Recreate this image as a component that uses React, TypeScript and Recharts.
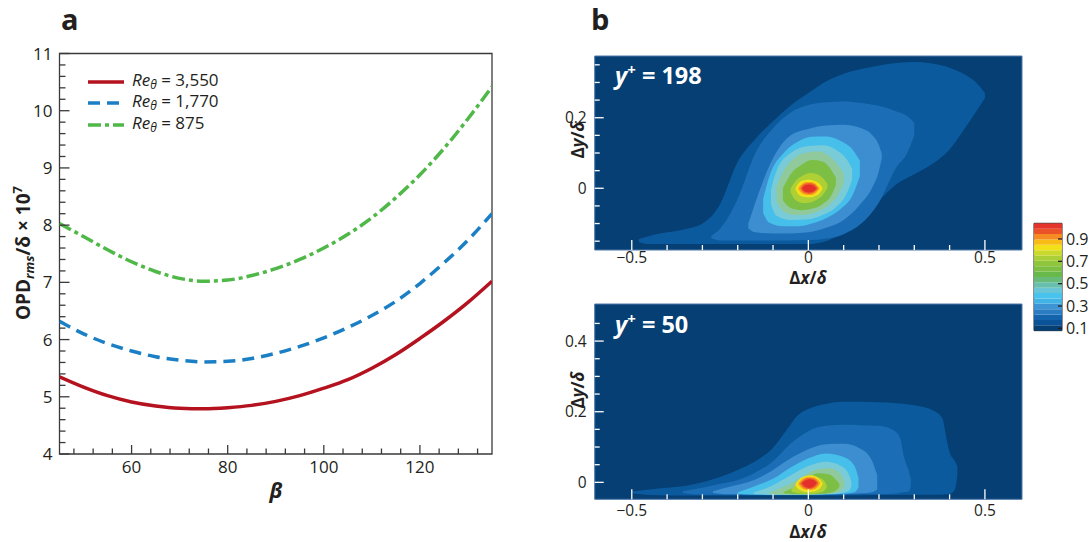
import React from "react";
import {
  Area,
  Bar,
  BarChart,
  CartesianGrid,
  ComposedChart,
  Legend,
  Line,
  LineChart,
  ReferenceArea,
  XAxis,
  YAxis,
} from "recharts";

const FONT = '"Open Sans", "Noto Sans", sans-serif';

// ---------- panel a: OPD vs beta ----------
const beta = [45, 50, 55, 60, 65, 70, 75, 80, 85, 90, 95, 100, 105, 110, 115, 120, 125, 130, 135];
const re3550 = [5.35, 5.17, 5.02, 4.91, 4.84, 4.8, 4.79, 4.81, 4.85, 4.92, 5.02, 5.15, 5.3, 5.5, 5.74, 6.02, 6.32, 6.65, 7.02];
const re1770 = [6.32, 6.1, 5.93, 5.8, 5.7, 5.64, 5.61, 5.62, 5.67, 5.76, 5.88, 6.03, 6.21, 6.42, 6.67, 6.98, 7.34, 7.74, 8.2];
const re875 = [8.03, 7.8, 7.57, 7.36, 7.19, 7.07, 7.02, 7.04, 7.12, 7.24, 7.4, 7.6, 7.84, 8.13, 8.48, 8.88, 9.34, 9.86, 10.42];
const seriesKeys = ["a", "b", "c"];
const reLabels = ["3,550", "1,770", "875"];
const lineColors = ["#b5121f", "#1a7fc4", "#4fb848"];
const lineDash = [undefined, "12 7", "13 4 4 4"];

const betaMajors = [60, 80, 100, 120];
const betaTicks = Array.from({ length: 22 }, (_, i) => 48 + i * 4);
const opdMajors = [4, 5, 6, 7, 8, 9, 10, 11];
const opdTicks = Array.from({ length: 36 }, (_, i) => Math.round((4 + i * 0.2) * 10) / 10);

const opdData = beta.map((b, i) => ({ beta: b, a: re3550[i], b: re1770[i], c: re875[i] }));

// ---------- panel b: correlation contours, [dx, lower dy, upper dy] ----------
type Pt = [number, number, number];

const top1: Pt[] = [
  [-0.48, -0.152, -0.144], [-0.45, -0.158, -0.135], [-0.4, -0.158, -0.125], [-0.35, -0.158, -0.116],
  [-0.3, -0.158, -0.1], [-0.25, -0.158, -0.045], [-0.2, -0.158, 0.075], [-0.15, -0.158, 0.14],
  [-0.1, -0.158, 0.19], [-0.05, -0.158, 0.235], [0, -0.158, 0.27], [0.05, -0.15, 0.303],
  [0.1, -0.125, 0.325], [0.15, -0.085, 0.338], [0.2, -0.035, 0.348], [0.25, 0.012, 0.355],
  [0.3, 0.04, 0.358], [0.35, 0.068, 0.354], [0.4, 0.11, 0.342], [0.45, 0.18, 0.318],
  [0.48, 0.225, 0.295], [0.5, 0.255, 0.27],
];
const top2: Pt[] = [
  [-0.275, -0.142, -0.135], [-0.25, -0.148, -0.115], [-0.2, -0.148, -0.03], [-0.15, -0.148, 0.1],
  [-0.1, -0.148, 0.17], [-0.05, -0.148, 0.215], [0, -0.147, 0.236], [0.05, -0.143, 0.244],
  [0.1, -0.13, 0.246], [0.15, -0.1, 0.242], [0.2, -0.04, 0.234], [0.25, 0.06, 0.218],
  [0.28, 0.1, 0.205], [0.3, 0.15, 0.185],
];
const top3: Pt[] = [
  [-0.17, -0.114, -0.1], [-0.15, -0.125, -0.04], [-0.1, -0.128, 0.085], [-0.05, -0.128, 0.15],
  [0, -0.125, 0.168], [0.05, -0.112, 0.178], [0.1, -0.09, 0.18], [0.15, -0.042, 0.17],
  [0.18, 0, 0.152], [0.2, 0.05, 0.122], [0.208, 0.085, 0.097],
];
const top4: Pt[] = [
  [-0.128, -0.07, -0.03], [-0.11, -0.098, 0.035], [-0.07, -0.108, 0.1], [-0.03, -0.108, 0.132],
  [0.01, -0.1, 0.146], [0.05, -0.085, 0.147], [0.09, -0.06, 0.135], [0.125, -0.02, 0.11],
  [0.146, 0.035, 0.078],
];
const top5: Pt[] = [
  [-0.106, -0.045, -0.005], [-0.09, -0.078, 0.05], [-0.05, -0.09, 0.1], [0, -0.088, 0.12],
  [0.04, -0.076, 0.122], [0.08, -0.052, 0.108], [0.11, -0.012, 0.08], [0.124, 0.025, 0.055],
];
const top6: Pt[] = [
  [-0.09, -0.035, 0.005], [-0.07, -0.066, 0.05], [-0.04, -0.076, 0.085], [0, -0.074, 0.102],
  [0.03, -0.064, 0.104], [0.06, -0.046, 0.09], [0.088, -0.012, 0.06], [0.1, 0.015, 0.04],
];
const top7: Pt[] = [
  [-0.072, -0.035, 0], [-0.05, -0.056, 0.04], [-0.02, -0.062, 0.066], [0.01, -0.058, 0.08],
  [0.04, -0.045, 0.076], [0.065, -0.02, 0.052], [0.078, 0.01, 0.03],
];
const top8: Pt[] = [
  [-0.05, -0.012, 0], [-0.035, -0.035, 0.022], [-0.015, -0.042, 0.036], [0.005, -0.04, 0.043],
  [0.025, -0.032, 0.04], [0.042, -0.018, 0.028], [0.054, 0.002, 0.012],
];
const top9: Pt[] = [
  [-0.036, -0.004, 0.002], [-0.025, -0.02, 0.017], [-0.01, -0.025, 0.023], [0.005, -0.026, 0.024],
  [0.02, -0.022, 0.02], [0.032, -0.014, 0.012], [0.04, -0.002, 0.001],
];
const top10: Pt[] = [
  [-0.028, -0.003, 0.002], [-0.018, -0.015, 0.013], [-0.005, -0.019, 0.018], [0.008, -0.019, 0.018],
  [0.02, -0.014, 0.013], [0.031, -0.002, 0.001],
];
const top11: Pt[] = [
  [-0.022, -0.002, 0.002], [-0.012, -0.013, 0.012], [0.002, -0.016, 0.015], [0.016, -0.012, 0.012],
  [0.027, -0.002, 0.001],
];
const top12: Pt[] = [
  [-0.017, -0.002, 0.002], [-0.008, -0.01, 0.009], [0.003, -0.012, 0.011], [0.014, -0.009, 0.008],
  [0.022, -0.001, 0.001],
];

const bot1: Pt[] = [
  [-0.5, -0.03, -0.026], [-0.45, -0.036, -0.02], [-0.4, -0.037, -0.015], [-0.35, -0.037, -0.01],
  [-0.3, -0.037, 0], [-0.25, -0.037, 0.015], [-0.2, -0.037, 0.035], [-0.15, -0.037, 0.06],
  [-0.1, -0.037, 0.098], [-0.06, -0.037, 0.15], [-0.03, -0.037, 0.19], [0, -0.037, 0.208],
  [0.05, -0.037, 0.222], [0.1, -0.037, 0.228], [0.2, -0.036, 0.227], [0.3, -0.035, 0.218],
  [0.36, -0.035, 0.2], [0.38, -0.035, 0.18], [0.39, -0.034, 0.13], [0.4, -0.033, 0.085],
  [0.415, -0.02, 0.06], [0.422, 0.02, 0.045],
];
const bot2: Pt[] = [
  [-0.355, -0.03, -0.025], [-0.3, -0.035, -0.015], [-0.25, -0.035, -0.004], [-0.2, -0.035, 0.007],
  [-0.15, -0.035, 0.028], [-0.1, -0.035, 0.06], [-0.05, -0.035, 0.11], [0, -0.035, 0.145],
  [0.05, -0.035, 0.16], [0.1, -0.035, 0.163], [0.15, -0.034, 0.162], [0.2, -0.033, 0.16],
  [0.24, -0.032, 0.148], [0.26, -0.03, 0.125], [0.27, -0.028, 0.075], [0.285, -0.025, 0.03],
  [0.29, -0.01, 0.01],
];
const bot3: Pt[] = [
  [-0.27, -0.03, -0.025], [-0.22, -0.034, -0.012], [-0.15, -0.034, 0.008], [-0.1, -0.034, 0.035],
  [-0.05, -0.034, 0.068], [0, -0.034, 0.094], [0.05, -0.034, 0.108], [0.1, -0.033, 0.109],
  [0.15, -0.031, 0.094], [0.18, -0.028, 0.062], [0.195, -0.02, 0.02],
];
const bot4: Pt[] = [
  [-0.2, -0.033, -0.028], [-0.15, -0.035, -0.01], [-0.1, -0.035, 0.01], [-0.05, -0.035, 0.042],
  [0, -0.035, 0.068], [0.05, -0.034, 0.082], [0.1, -0.032, 0.072], [0.13, -0.028, 0.048],
  [0.142, -0.015, 0.012],
];
const bot5: Pt[] = [
  [-0.155, -0.033, -0.029], [-0.1, -0.035, -0.008], [-0.05, -0.035, 0.02], [0, -0.035, 0.046],
  [0.05, -0.034, 0.058], [0.09, -0.031, 0.048], [0.115, -0.024, 0.022], [0.122, -0.01, 0],
];
const bot6: Pt[] = [
  [-0.11, -0.033, -0.029], [-0.06, -0.035, -0.008], [-0.02, -0.035, 0.014], [0.02, -0.034, 0.036],
  [0.06, -0.032, 0.04], [0.09, -0.026, 0.026], [0.102, -0.012, 0.002],
];
const bot7: Pt[] = [
  [-0.07, -0.031, -0.027], [-0.03, -0.034, -0.008], [0, -0.034, 0.016], [0.03, -0.033, 0.026],
  [0.06, -0.03, 0.022], [0.08, -0.022, 0.005], [0.088, -0.012, -0.004],
];
const bot8: Pt[] = [
  [-0.048, -0.026, -0.02], [-0.03, -0.031, -0.002], [-0.01, -0.032, 0.012], [0.01, -0.032, 0.018],
  [0.03, -0.03, 0.014], [0.045, -0.024, 0.004], [0.052, -0.015, -0.008],
];
const bot9: Pt[] = [
  [-0.036, -0.01, -0.004], [-0.024, -0.022, 0.01], [-0.008, -0.027, 0.018], [0.008, -0.027, 0.02],
  [0.024, -0.023, 0.015], [0.034, -0.015, 0.007], [0.04, -0.006, -0.001],
];
const bot10: Pt[] = [
  [-0.028, -0.006, -0.002], [-0.016, -0.018, 0.01], [0, -0.022, 0.015], [0.016, -0.02, 0.014],
  [0.028, -0.012, 0.006], [0.033, -0.005, 0],
];
const bot11: Pt[] = [
  [-0.023, -0.005, -0.002], [-0.012, -0.016, 0.008], [0.002, -0.019, 0.012], [0.016, -0.016, 0.01],
  [0.027, -0.006, 0.001],
];
const bot12: Pt[] = [
  [-0.018, -0.004, -0.002], [-0.008, -0.013, 0.006], [0.004, -0.016, 0.009], [0.015, -0.012, 0.007],
  [0.023, -0.004, 0],
];

const topShapes = [top1, top2, top3, top4, top5, top6, top7, top8, top9, top10, top11, top12];
const botShapes = [bot1, bot2, bot3, bot4, bot5, bot6, bot7, bot8, bot9, bot10, bot11, bot12];
const levelColors = [
  "#0b5a9d", "#1b6db5", "#3d8ed1", "#46bfeb", "#7acbd8", "#90ca9c",
  "#7cbf44", "#aed035", "#f2e01b", "#f7a31d", "#ee6327", "#e3302a",
];
const BG = "#063f74";

const dxTicks = [-0.5, -0.4, -0.3, -0.2, -0.1, 0, 0.1, 0.2, 0.3, 0.4, 0.5];
const dxMajors = [-0.5, 0, 0.5];
const dyTicksTop = [-0.15, -0.1, -0.05, 0, 0.05, 0.1, 0.15, 0.2, 0.25, 0.3, 0.35];
const dyMajorsTop = [0, 0.2];
const dyTicksBot = [0, 0.05, 0.1, 0.15, 0.2, 0.25, 0.3, 0.35, 0.4, 0.45];
const dyMajorsBot = [0, 0.2, 0.4];

// colour bar, bottom to top
const cbColors = [
  "#063f74", "#0a5399", "#1464ad", "#2a7cc3", "#3f94d4", "#43b3e6", "#48c3ed",
  "#6ac6d6", "#68bfae", "#68ba78", "#69b84a", "#7dbf42", "#90c63e", "#aacf37",
  "#cbd92d", "#f2e11a", "#f9bc16", "#f58b22", "#ec5228", "#e5342a",
];
const cbStart = 0.08;
const cbStep = 0.048;
const cbTicks = [0.1, 0.3, 0.5, 0.7, 0.9];
const cbRow: Record<string, number | string> = { name: "cb", base: cbStart };
cbColors.forEach((_, i) => (cbRow[`s${i}`] = cbStep));

const fmtNum = (v: number) => (v < 0 ? "\u2212" + Math.abs(v) : String(v));

function makeTick(o: {
  side: "left" | "bottom" | "right";
  margin: number;
  majors: number[];
  majorLen: number;
  minorLen: number;
  color: string;
  fontSize: number;
  labelDy?: number;
}) {
  return (props: any) => {
    const { x, y, payload } = props;
    const v = payload.value as number;
    const major = o.majors.some((m) => Math.abs(m - v) < 1e-9);
    const len = major ? o.majorLen : o.minorLen;
    const txt = { fontSize: o.fontSize, fontFamily: FONT, fill: "#231f20" };
    if (o.side === "left") {
      const ax = x + o.margin;
      return (
        <g>
          <line x1={ax} x2={ax + len} y1={y} y2={y} stroke={o.color} strokeWidth={1.3} />
          {major && (
            <text x={x} y={y} dy="0.36em" textAnchor="end" style={txt}>
              {fmtNum(v)}
            </text>
          )}
        </g>
      );
    }
    if (o.side === "right") {
      const ax = x - o.margin;
      return (
        <g>
          <line x1={ax} x2={ax - len} y1={y} y2={y} stroke={o.color} strokeWidth={1.3} />
          <text x={x} y={y} dy="0.36em" textAnchor="start" style={txt}>
            {fmtNum(v)}
          </text>
        </g>
      );
    }
    const ay = y - o.margin;
    return (
      <g>
        <line x1={x} x2={x} y1={ay} y2={ay - len} stroke={o.color} strokeWidth={1.3} />
        {major && (
          <text x={x} y={ay + (o.labelDy ?? 16)} textAnchor="middle" style={txt}>
            {fmtNum(v)}
          </text>
        )}
      </g>
    );
  };
}

function OpdLegend(props: any) {
  const items = [...(props.payload ?? [])].sort(
    (p: any, q: any) => seriesKeys.indexOf(p.dataKey) - seriesKeys.indexOf(q.dataKey)
  );
  return (
    <div style={{ fontFamily: FONT, fontSize: 17, color: "#231f20", lineHeight: "21.5px" }}>
      {items.map((it: any) => {
        const k = seriesKeys.indexOf(it.dataKey);
        return (
          <div key={it.dataKey} style={{ display: "flex", alignItems: "center", height: 21.5 }}>
            <svg width={44} height={10}>
              <line x1={0} x2={36} y1={5} y2={5} stroke={lineColors[k]} strokeWidth={3.5} strokeDasharray={lineDash[k]} />
            </svg>
            <span>
              <i>Re</i>
              <sub style={{ fontSize: 12, verticalAlign: "-3px" }}>
                <i>θ</i>
              </sub>
              {" = " + reLabels[k]}
            </span>
          </div>
        );
      })}
    </div>
  );
}

function ContourPanel({
  shapes,
  yDomain,
  yTicks,
  yMajors,
  top,
  height,
  marginTop,
  xAxisHeight,
  labelDy,
}: {
  shapes: Pt[][];
  yDomain: [number, number];
  yTicks: number[];
  yMajors: number[];
  top: number;
  height: number;
  marginTop: number;
  xAxisHeight: number;
  labelDy: number;
}) {
  return (
    <div style={{ position: "absolute", left: 540, top }}>
      <ComposedChart width={552} height={height} margin={{ top: marginTop, right: 70, bottom: 0, left: 0 }}>
        <CartesianGrid fill={BG} stroke="none" horizontal={false} vertical={false} />
        {shapes.map((pts, i) => (
          <Area
            key={i}
            data={pts.map(([x, lo, hi]) => ({ x, r: [lo, hi] }))}
            dataKey="r"
            type="monotone"
            fill={levelColors[i]}
            fillOpacity={1}
            stroke="none"
            dot={false}
            activeDot={false}
            isAnimationActive={false}
          />
        ))}
        <ReferenceArea
          x1={-0.605}
          x2={0.605}
          y1={yDomain[0]}
          y2={yDomain[1]}
          fill="none"
          stroke="#4f7bab"
          strokeWidth={1}
          ifOverflow="visible"
        />
        <XAxis
          type="number"
          dataKey="x"
          domain={[-0.605, 0.605]}
          allowDataOverflow
          ticks={dxTicks}
          interval={0}
          height={xAxisHeight}
          tickSize={0}
          tickMargin={0}
          tickLine={false}
          axisLine={false}
          tick={makeTick({ side: "bottom", margin: 0, majors: dxMajors, majorLen: 10, minorLen: 5, color: "#ffffff", fontSize: 15.5, labelDy })}
        />
        <YAxis
          type="number"
          domain={yDomain}
          allowDataOverflow
          ticks={yTicks}
          interval={0}
          width={54.7}
          tickSize={0}
          tickMargin={8}
          tickLine={false}
          axisLine={false}
          tick={makeTick({ side: "left", margin: 8, majors: yMajors, majorLen: 9, minorLen: 5, color: "#ffffff", fontSize: 15.5 })}
        />
      </ComposedChart>
    </div>
  );
}

export default function App() {
  const bold = { fontFamily: FONT, fontWeight: 700, fill: "#231f20" } as const;
  return (
    <div style={{ position: "absolute", left: 0, top: 0, width: 1092, height: 542, background: "#fff", overflow: "hidden" }}>
      {/* panel a */}
      <div style={{ position: "absolute", left: 0, top: 0 }}>
        <LineChart width={520} height={542} data={opdData} margin={{ top: 53.5, right: 28, bottom: 38, left: 0 }}>
          <Line dataKey="a" name={reLabels[0]} type="monotone" stroke={lineColors[0]} strokeWidth={3.5} dot={false} activeDot={false} isAnimationActive={false} />
          <Line dataKey="b" name={reLabels[1]} type="monotone" stroke={lineColors[1]} strokeWidth={3.5} strokeDasharray={lineDash[1]} dot={false} activeDot={false} isAnimationActive={false} />
          <Line dataKey="c" name={reLabels[2]} type="monotone" stroke={lineColors[2]} strokeWidth={3.5} strokeDasharray={lineDash[2]} dot={false} activeDot={false} isAnimationActive={false} />
          <ReferenceArea x1={45} x2={135} y1={4} y2={11} fill="none" stroke="#3a3a3a" strokeWidth={1.3} ifOverflow="visible" />
          <XAxis
            type="number"
            dataKey="beta"
            domain={[45, 135]}
            allowDataOverflow
            ticks={betaTicks}
            interval={0}
            height={50}
            tickSize={0}
            tickMargin={0}
            tickLine={false}
            axisLine={false}
            tick={makeTick({ side: "bottom", margin: 0, majors: betaMajors, majorLen: 9, minorLen: 5.5, color: "#3a3a3a", fontSize: 17, labelDy: 19 })}
          />
          <YAxis
            type="number"
            domain={[4, 11]}
            allowDataOverflow
            ticks={opdTicks}
            interval={0}
            width={59.5}
            tickSize={0}
            tickMargin={7}
            tickLine={false}
            axisLine={false}
            tick={makeTick({ side: "left", margin: 7, majors: opdMajors, majorLen: 10, minorLen: 6, color: "#3a3a3a", fontSize: 17 })}
          />
          <Legend
            layout="vertical"
            align="center"
            verticalAlign="middle"
            content={<OpdLegend />}
            wrapperStyle={{ left: 88, top: 71, width: 200 }}
          />
        </LineChart>
      </div>

      {/* panel b */}
      <ContourPanel shapes={topShapes} yDomain={[-0.175, 0.375]} yTicks={dyTicksTop} yMajors={dyMajorsTop} top={0} height={290} marginTop={56} xAxisHeight={40} labelDy={12.5} />
      <ContourPanel shapes={botShapes} yDomain={[-0.048, 0.505]} yTicks={dyTicksBot} yMajors={dyMajorsBot} top={290} height={252} marginTop={14} xAxisHeight={42.7} labelDy={17} />

      {/* colour bar */}
      <div style={{ position: "absolute", left: 1030, top: 210 }}>
        <BarChart width={62} height={140} data={[cbRow]} margin={{ top: 13.3, right: 2, bottom: 10.4, left: 4 }} barCategoryGap={0}>
          <XAxis dataKey="name" hide />
          <Bar dataKey="base" stackId="cb" fill="transparent" isAnimationActive={false} />
          {cbColors.map((c, i) => (
            <Bar key={i} dataKey={`s${i}`} stackId="cb" fill={c} isAnimationActive={false} />
          ))}
          <ReferenceArea y1={cbStart} y2={cbStart + cbStep * cbColors.length} fill="none" stroke="#231f20" strokeWidth={1} ifOverflow="visible" />
          <YAxis
            orientation="right"
            type="number"
            domain={[0, cbStart + cbStep * cbColors.length]}
            allowDataOverflow
            ticks={cbTicks}
            interval={0}
            width={28}
            tickSize={0}
            tickMargin={4}
            tickLine={false}
            axisLine={false}
            tick={makeTick({ side: "right", margin: 4, majors: cbTicks, majorLen: 4, minorLen: 4, color: "#231f20", fontSize: 16 })}
          />
        </BarChart>
      </div>

      {/* titles and annotations */}
      <svg width={1092} height={542} style={{ position: "absolute", left: 0, top: 0, pointerEvents: "none" }}>
        <text x={61} y={30} style={{ ...bold, fontSize: 29 }}>a</text>
        <text x={591} y={30} style={{ ...bold, fontSize: 29 }}>b</text>
        <text transform="translate(30,253) rotate(-90)" textAnchor="middle" style={{ ...bold, fontSize: 19 }}>
          OPD
          <tspan fontSize={13} fontStyle="italic" dy={4}>rms</tspan>
          <tspan dy={-4}>/δ × 10</tspan>
          <tspan fontSize={13} dy={-8}>7</tspan>
        </text>
        <text x={276} y={498} textAnchor="middle" style={{ ...bold, fontSize: 21, fontStyle: "italic" }}>β</text>

        <text transform="translate(584,140) rotate(-90)" textAnchor="middle" style={{ ...bold, fontSize: 17 }}>
          Δ<tspan fontStyle="italic">y</tspan>/<tspan fontStyle="italic">δ</tspan>
        </text>
        <text transform="translate(584,390) rotate(-90)" textAnchor="middle" style={{ ...bold, fontSize: 17 }}>
          Δ<tspan fontStyle="italic">y</tspan>/<tspan fontStyle="italic">δ</tspan>
        </text>
        <text x={808} y={284} textAnchor="middle" style={{ ...bold, fontSize: 17 }}>
          Δ<tspan fontStyle="italic">x</tspan>/<tspan fontStyle="italic">δ</tspan>
        </text>
        <text x={808} y={538} textAnchor="middle" style={{ ...bold, fontSize: 17 }}>
          Δ<tspan fontStyle="italic">x</tspan>/<tspan fontStyle="italic">δ</tspan>
        </text>

        <text x={615} y={84} style={{ ...bold, fontSize: 23.5, fill: "#ffffff" }}>
          <tspan fontStyle="italic">y</tspan>
          <tspan fontSize={15} dy={-9}>+</tspan>
          <tspan dy={9}> = 198</tspan>
        </text>
        <text x={615} y={333} style={{ ...bold, fontSize: 23.5, fill: "#ffffff" }}>
          <tspan fontStyle="italic">y</tspan>
          <tspan fontSize={15} dy={-9}>+</tspan>
          <tspan dy={9}> = 50</tspan>
        </text>
      </svg>
    </div>
  );
}
